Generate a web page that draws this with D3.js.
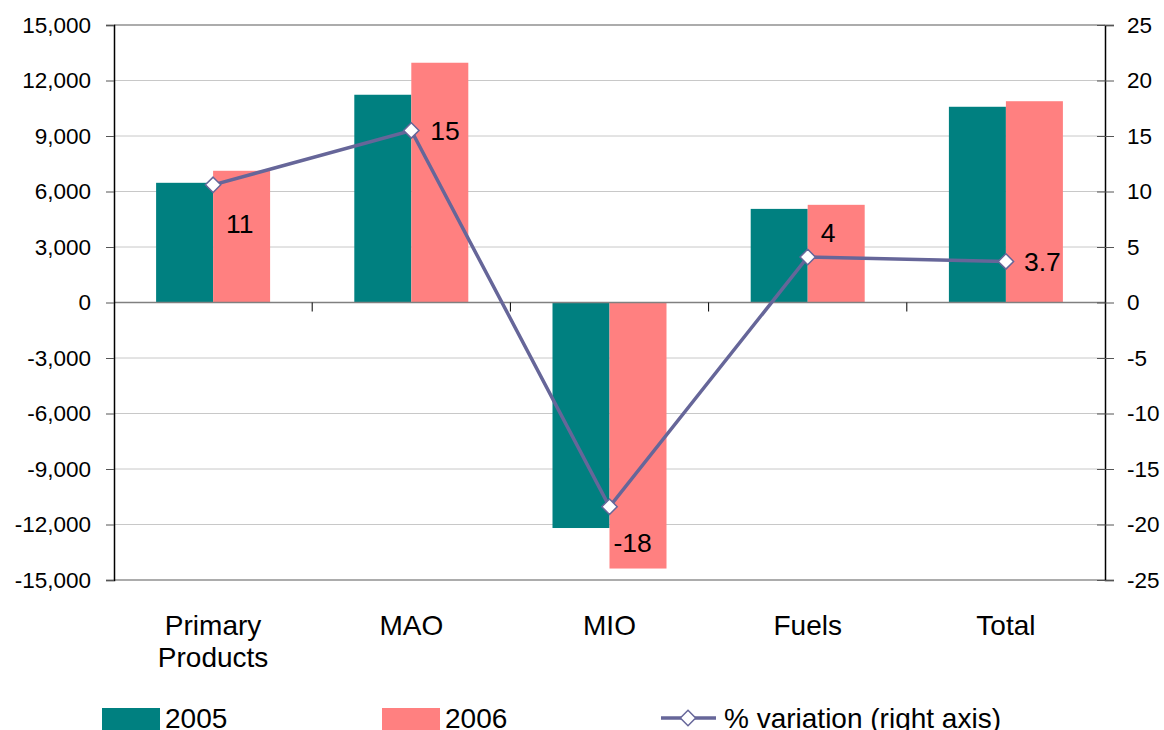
<!DOCTYPE html>
<html><head><meta charset="utf-8">
<script src="https://cdn.jsdelivr.net/npm/d3@7"></script>
<style>body{margin:0;background:#fff}svg{display:block;font-family:"Liberation Sans",Arial,sans-serif}</style>
</head><body><svg id="c" width="1164" height="730"></svg>
<script>
const categories = ["Primary Products", "MAO", "MIO", "Fuels", "Total"];
const series = ["2005", "2006"];
const values2005 = [6470, 11230, -12190, 5060, 10580];
const values2006 = [7120, 12960, -14380, 5280, 10880];
const pctVariation = [10.6, 15.5, -18.4, 4.1, 3.7];
const pctLabels = ["11", "15", "-18", "4", "3.7"];
const leftTicks = [-15000, -12000, -9000, -6000, -3000, 0, 3000, 6000, 9000, 12000, 15000];
const rightTicks = [-25, -20, -15, -10, -5, 0, 5, 10, 15, 20, 25];

// layout
const labelOffsets = [[13, 48], [19, 10], [4, 45], [13, -15], [18, 10]];
const colors = {"2005": "#008080", "2006": "#FF8080"};
const lineColor = "#666699";
const L = 114, R = 1105, T = 25, B = 580;

const svg = d3.select("#c");
const x0 = d3.scaleBand().domain(categories).range([L, R]).padding(0);
const x1 = d3.scaleBand().domain(series).range([0, x0.bandwidth()]).paddingInner(0).paddingOuter(0.7386);
const y = d3.scaleLinear().domain([-15000, 15000]).range([B, T]);
const y2 = d3.scaleLinear().domain([-25, 25]).range([B, T]);
const loc = d3.formatLocale({decimal: ".", thousands: ",", grouping: [3], currency: ["", ""], minus: "-"});
const fmt = loc.format(",");
const fmt2 = loc.format("d");

// gridlines
svg.append("g").selectAll("line").data(leftTicks.filter(d => d !== 0 && d !== 15000 && d !== -15000)).join("line")
  .attr("x1", L).attr("x2", R).attr("y1", d => y(d)).attr("y2", d => y(d))
  .attr("stroke", "#c8c8c8").attr("stroke-width", 1);
// top & bottom borders
svg.append("line").attr("x1", L).attr("x2", R).attr("y1", T).attr("y2", T).attr("stroke", "#909090").attr("stroke-width", 1.5);
svg.append("line").attr("x1", L).attr("x2", R).attr("y1", B).attr("y2", B).attr("stroke", "#909090").attr("stroke-width", 1.5);

// bars
const data = categories.map((c, i) => ({c, v: {"2005": values2005[i], "2006": values2006[i]}}));
const g = svg.append("g");
data.forEach(d => {
  series.forEach(s => {
    const v = d.v[s];
    g.append("rect")
      .attr("x", x0(d.c) + x1(s)).attr("width", x1.bandwidth())
      .attr("y", Math.min(y(v), y(0))).attr("height", Math.abs(y(v) - y(0)))
      .attr("fill", colors[s]);
  });
});

// zero line
svg.append("line").attr("x1", L).attr("x2", R).attr("y1", y(0)).attr("y2", y(0)).attr("stroke", "#808080").attr("stroke-width", 1.5);
// category ticks
svg.append("g").selectAll("line").data(categories.slice(1)).join("line")
  .attr("x1", d => x0(d)).attr("x2", d => x0(d)).attr("y1", y(0)).attr("y2", y(0) + 9)
  .attr("stroke", "#000").attr("stroke-width", 1);

// left axis
const ya = svg.append("g").attr("transform", `translate(${L},0)`)
  .call(d3.axisLeft(y).tickValues(leftTicks).tickFormat(fmt).tickSize(8).tickPadding(15));
ya.select(".domain").attr("stroke", "#000").attr("stroke-width", 1.5);
ya.selectAll(".tick line").attr("stroke", "#555");
ya.selectAll("text").attr("font-size", 22.5).attr("fill", "#000").attr("font-family", "Liberation Sans, Arial, sans-serif");

// right axis
const yb = svg.append("g").attr("transform", `translate(${R},0)`)
  .call(d3.axisRight(y2).tickValues(rightTicks).tickFormat(fmt2).tickSize(9).tickPadding(13));
yb.select(".domain").attr("stroke", "#000").attr("stroke-width", 1.5);
yb.selectAll(".tick line").attr("x1", -8).attr("stroke", "#555");
yb.selectAll("text").attr("font-size", 22.5).attr("fill", "#000").attr("font-family", "Liberation Sans, Arial, sans-serif");

// line
const cx = c => x0(c) + x0.bandwidth() / 2;
const line = d3.line().x((d, i) => cx(categories[i])).y(d => y2(d));
svg.append("path").datum(pctVariation).attr("d", line).attr("fill", "none").attr("stroke", lineColor).attr("stroke-width", 3.5);
const diamond = d3.symbol().type(d3.symbolDiamond2).size(150);
svg.append("g").selectAll("path").data(pctVariation).join("path")
  .attr("d", diamond)
  .attr("transform", (d, i) => `translate(${cx(categories[i])},${y2(d)})`)
  .attr("fill", "#fff").attr("stroke", lineColor).attr("stroke-width", 1.5);
svg.append("g").selectAll("text").data(pctLabels).join("text")
  .attr("x", (d, i) => cx(categories[i]) + labelOffsets[i][0])
  .attr("y", (d, i) => y2(pctVariation[i]) + labelOffsets[i][1])
  .attr("font-size", 26.5).attr("fill", "#000").text(d => d);

// category labels
categories.forEach(c => {
  const words = c.split(" ");
  const t = svg.append("text").attr("text-anchor", "middle").attr("font-size", 28).attr("fill", "#000");
  words.forEach((w, j) => t.append("tspan").attr("x", cx(c)).attr("y", 635 + j * 32).text(w));
});

// legend
const lg = svg.append("g");
lg.append("rect").attr("x", 102).attr("y", 708).attr("width", 58).attr("height", 22).attr("fill", colors["2005"]);
lg.append("text").attr("x", 165).attr("y", 728).attr("font-size", 28).text(series[0]);
lg.append("rect").attr("x", 382).attr("y", 708).attr("width", 58).attr("height", 22).attr("fill", colors["2006"]);
lg.append("text").attr("x", 445).attr("y", 728).attr("font-size", 28).text(series[1]);
lg.append("line").attr("x1", 661).attr("x2", 716).attr("y1", 718).attr("y2", 718).attr("stroke", lineColor).attr("stroke-width", 3.5);
lg.append("path").attr("d", diamond).attr("transform", "translate(688,718)").attr("fill", "#fff").attr("stroke", lineColor).attr("stroke-width", 1.5);
lg.append("text").attr("x", 724).attr("y", 728).attr("font-size", 28).text("% variation (right axis)");
</script></body></html>
